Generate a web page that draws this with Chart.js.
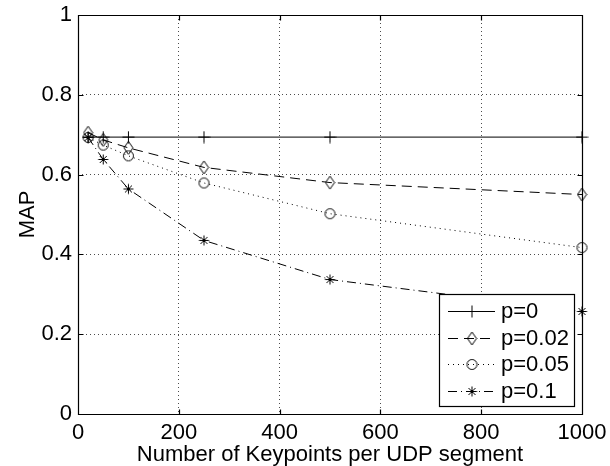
<!DOCTYPE html>
<html><head><meta charset="utf-8">
<script src="https://cdn.jsdelivr.net/npm/chart.js@4/dist/chart.umd.min.js"></script>
<style>html,body{margin:0;padding:0;background:#fff}#wrap{width:610px;height:466px}</style>
</head><body><div id="wrap"><canvas id="c" width="610" height="466"></canvas></div>
<script>
// ---- data ----
const keypoints = [20, 50, 100, 250, 500, 1000];
const seriesNames = ['p=0', 'p=0.02', 'p=0.05', 'p=0.1'];
const mapP0   = [0.694, 0.694, 0.694, 0.694, 0.694, 0.694];
const mapP002 = [0.705, 0.687, 0.667, 0.618, 0.580, 0.550];
const mapP005 = [0.693, 0.674, 0.647, 0.579, 0.502, 0.417];
const mapP01  = [0.693, 0.638, 0.564, 0.435, 0.337, 0.257];
const xTickValues = [0, 200, 400, 600, 800, 1000];
const yTickValues = [0, 0.2, 0.4, 0.6, 0.8, 1];
const xTitle = 'Number of Keypoints per UDP segment';
const yTitle = 'MAP';

const FONT = "'Liberation Sans', Arial, Helvetica, sans-serif";
const font = {family: FONT, size: 22};
const titleFont = {family: FONT, size: 22, lineHeight: 1};

function mk(w, h, draw) {
  const c = document.createElement('canvas'); c.width = w; c.height = h;
  const g = c.getContext('2d'); g.strokeStyle = '#000'; g.lineWidth = 1; draw(g); return c;
}
const mPlus = mk(13, 13, g => { g.beginPath(); g.moveTo(0.5, 6.5); g.lineTo(12.5, 6.5); g.moveTo(6.5, 0.5); g.lineTo(6.5, 12.5); g.stroke(); });
const mDiamond = mk(11, 15, g => { g.beginPath(); g.moveTo(5.5, 1); g.lineTo(10, 7.5); g.lineTo(5.5, 14); g.lineTo(1, 7.5); g.closePath(); g.stroke(); });
const mCircle = mk(13, 13, g => { g.beginPath(); g.arc(6.5, 6.5, 5, 0, Math.PI * 2); g.stroke(); });
const mStar = mk(13, 13, g => { g.beginPath(); g.moveTo(1.5, 6.5); g.lineTo(11.5, 6.5); g.moveTo(6.5, 1.5); g.lineTo(6.5, 11.5);
  g.moveTo(3, 3); g.lineTo(10, 10); g.moveTo(10, 3); g.lineTo(3, 10); g.stroke(); });

const styles = [
  {marker: mPlus, dash: []},
  {marker: mDiamond, dash: [10, 6]},
  {marker: mCircle, dash: [1, 4]},
  {marker: mStar, dash: [9, 4, 1, 4]}
];
const values = [mapP0, mapP002, mapP005, mapP01];

const datasets = values.map((vals, i) => ({
  label: seriesNames[i],
  data: keypoints.map((k, j) => ({x: k, y: vals[j]})),
  borderColor: '#000', borderWidth: 1, borderDash: styles[i].dash,
  pointStyle: styles[i].marker, pointRadius: 6, pointHoverRadius: 6,
  backgroundColor: 'rgba(0,0,0,0)', fill: false, tension: 0, clip: false
}));

const framePlugin = {
  id: 'frame',
  beforeDatasetsDraw(chart) {
    const {ctx, chartArea: a, scales} = chart;
    ctx.save();
    ctx.strokeStyle = '#000'; ctx.lineWidth = 1.2; ctx.setLineDash([]);
    const L = Math.round(a.left) + 0.5, R = Math.round(a.right) + 0.5, T = Math.round(a.top) + 0.5, B = Math.round(a.bottom) + 0.5;
    ctx.beginPath();
    ctx.rect(L, T, R - L, B - T);
    xTickValues.forEach(v => { const px = Math.round(scales.x.getPixelForValue(v)) + 0.5;
      ctx.moveTo(px, B); ctx.lineTo(px, B - 5); ctx.moveTo(px, T); ctx.lineTo(px, T + 5); });
    yTickValues.forEach(v => { const py = Math.round(scales.y.getPixelForValue(v)) + 0.5;
      ctx.moveTo(L, py); ctx.lineTo(L + 5, py); ctx.moveTo(R, py); ctx.lineTo(R - 5, py); });
    ctx.stroke();
    ctx.restore();
  },
  afterDraw(chart) {
    const ctx = chart.ctx;
    ctx.save();
    const bx = 439.5, by = 294.5, bw = 135, bh = 112;
    ctx.fillStyle = '#fff'; ctx.fillRect(bx, by, bw, bh);
    ctx.strokeStyle = '#000'; ctx.lineWidth = 1.2; ctx.setLineDash([]); ctx.strokeRect(bx, by, bw, bh);
    ctx.font = "22px " + FONT; ctx.textBaseline = 'middle'; ctx.textAlign = 'left'; ctx.fillStyle = '#000';
    chart.data.datasets.forEach((ds, i) => {
      const cy = 311 + i * 26.7;
      ctx.beginPath(); ctx.setLineDash(styles[i].dash); ctx.strokeStyle = '#000'; ctx.lineWidth = 1;
      ctx.moveTo(448, Math.round(cy) + 0.5); ctx.lineTo(495, Math.round(cy) + 0.5); ctx.stroke();
      ctx.setLineDash([]);
      const m = styles[i].marker;
      ctx.drawImage(m, 472 - m.width / 2, Math.round(cy) + 0.5 - m.height / 2);
      ctx.fillText(ds.label, 501, cy + 1);
    });
    ctx.restore();
  }
};

new Chart(document.getElementById('c'), {
  type: 'line',
  data: {datasets},
  options: {
    responsive: false, animation: false, devicePixelRatio: 1,
    layout: {padding: {top: 15, right: 28, left: 0, bottom: 0}},
    plugins: {legend: {display: false}, tooltip: {enabled: false}},
    scales: {
      x: {
        type: 'linear', min: 0, max: 1000,
        afterBuildTicks: s => { s.ticks = xTickValues.map(v => ({value: v})); },
        afterFit: s => { s.height = 52; s.paddingLeft = 0; s.paddingRight = 0; },
        ticks: {color: '#000', font, padding: 6, maxRotation: 0, autoSkip: false, callback: v => String(v)},
        grid: {color: 'rgba(0,0,0,0.7)', lineWidth: 1, drawTicks: false},
        border: {display: false, dash: [1, 3]},
        title: {display: true, text: xTitle, color: '#000', font: titleFont, padding: {top: 0, bottom: 0}}
      },
      y: {
        type: 'linear', min: 0, max: 1,
        afterBuildTicks: s => { s.ticks = yTickValues.map(v => ({value: v})); },
        afterFit: s => { s.width = 78; s.paddingTop = 0; s.paddingBottom = 0; },
        ticks: {color: '#000', font, padding: 6, autoSkip: false, callback: v => String(v)},
        grid: {color: 'rgba(0,0,0,0.7)', lineWidth: 1, drawTicks: false},
        border: {display: false, dash: [1, 3]},
        title: {display: true, text: yTitle, color: '#000', font: titleFont, padding: {top: 17, bottom: 0}}
      }
    }
  },
  plugins: [framePlugin]
});
</script></body></html>
